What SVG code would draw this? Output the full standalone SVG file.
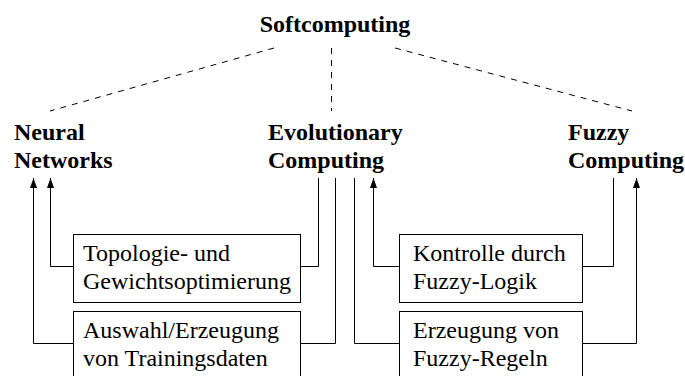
<svg xmlns="http://www.w3.org/2000/svg" width="685" height="376" viewBox="0 0 685 376">
<defs>
<style>
.b{font-family:"Liberation Serif","Times New Roman",serif;font-weight:bold;font-size:24px;fill:#000}
.r{font-family:"Liberation Serif","Times New Roman",serif;font-size:24px;fill:#000}
.box{fill:#fff;stroke:#000;stroke-width:1}
.c{fill:none;stroke:#000;stroke-width:1}
.d{fill:none;stroke:#000;stroke-width:1;stroke-dasharray:6 6}
</style>
<marker id="ah" markerUnits="userSpaceOnUse" markerWidth="10" markerHeight="8" refX="10" refY="3.5" orient="auto">
<path d="M0,0 L10,3.5 L0,7 z" fill="#000"/>
</marker>
</defs>
<rect width="685" height="376" fill="#fff"/>
<g id="softcomputing"><text class="b" x="335" y="32" text-anchor="middle">Softcomputing</text></g>
<g id="neural"><text class="b" x="14" y="140">Neural</text><text class="b" x="14" y="168">Networks</text></g>
<g id="evolutionary"><text class="b" x="268" y="140">Evolutionary</text><text class="b" x="268" y="168">Computing</text></g>
<g id="fuzzy"><text class="b" x="568" y="140">Fuzzy</text><text class="b" x="568" y="168">Computing</text></g>
<g id="topologie"><rect class="box" x="73.5" y="234.5" width="227" height="68"/><text class="r" x="83" y="261">Topologie- und</text><text class="r" x="83" y="289">Gewichtsoptimierung</text></g>
<g id="auswahl"><rect class="box" x="73.5" y="311.5" width="227" height="80"/><text class="r" x="83" y="338">Auswahl/Erzeugung</text><text class="r" x="83" y="366">von Trainingsdaten</text></g>
<g id="kontrolle"><rect class="box" x="399.5" y="234.5" width="183" height="68"/><text class="r" x="413" y="261">Kontrolle durch</text><text class="r" x="413" y="289">Fuzzy-Logik</text></g>
<g id="erzeugung"><rect class="box" x="399.5" y="311.5" width="183" height="80"/><text class="r" x="413" y="338">Erzeugung von</text><text class="r" x="413" y="366">Fuzzy-Regeln</text></g>
<g id="connectors">
<path class="d" d="M274,48 L50,111"/>
<path class="d" d="M331.5,48 V111"/>
<path class="d" d="M395,48 L632,111"/>
<path class="c" d="M73.5,266.5 H50.5 V178" marker-end="url(#ah)"/>
<path class="c" d="M73.5,343.5 H33.5 V178" marker-end="url(#ah)"/>
<path class="c" d="M300.5,266.5 H318.5 V178"/>
<path class="c" d="M300.5,343.5 H335.5 V178"/>
<path class="c" d="M399.5,343.5 H354.5 V178"/>
<path class="c" d="M399.5,266.5 H373.5 V178" marker-end="url(#ah)"/>
<path class="c" d="M582.5,266.5 H613.5 V178"/>
<path class="c" d="M582.5,343.5 H636.5 V178" marker-end="url(#ah)"/>
</g>
</svg>
